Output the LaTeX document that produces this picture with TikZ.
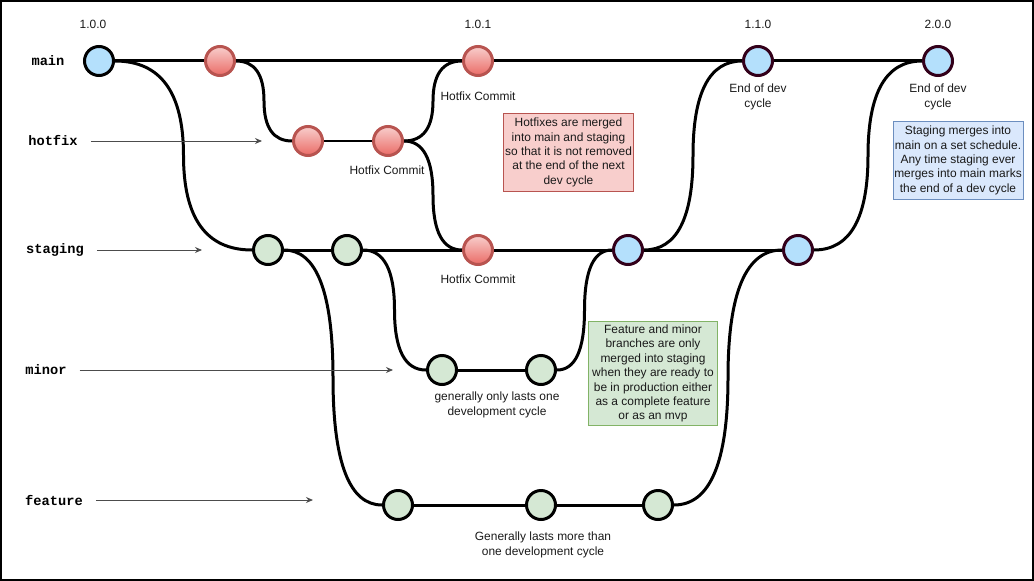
\documentclass[tikz,border=0pt]{standalone}
\usepackage{fontspec}
\setmainfont{Liberation Sans}
\setmonofont{Liberation Mono}
\usepackage{tikz}
\usetikzlibrary{arrows.meta, calc, backgrounds}
\definecolor{gfBlue}{RGB}{180,224,252}
\definecolor{gfRim}{RGB}{51,0,26}
\definecolor{gfRedTop}{RGB}{248,206,204}
\definecolor{gfRedBot}{RGB}{234,107,102}
\definecolor{gfRedRim}{RGB}{184,84,80}
\definecolor{gfGreen}{RGB}{213,232,212}
\definecolor{gfGreenRim}{RGB}{130,179,102}
\definecolor{gfNoteBlue}{RGB}{218,232,252}
\definecolor{gfNoteBlueRim}{RGB}{108,142,191}
% smooth orthogonal merge, bending at the half-way column
\newcommand{\mergecurve}[2]{%
  \path (#1.east) coordinate (mc0) (#2.west) coordinate (mc3)
    ($(mc0)!1/3!(mc3)$) coordinate (mca)
    ($(mc0)!1/6!(mc3)$) coordinate (mcb)
    ($(mc0)!1/2!(mc3)$) coordinate (mcm)
    ($(mc0)!5/6!(mc3)$) coordinate (mcc)
    ($(mc0)!2/3!(mc3)$) coordinate (mcd);
  \draw[branch] (mc0) .. controls (mca |- mc0) and (mcm |- mcb) .. (mcm)
    .. controls (mcm |- mcc) and (mcd |- mc3) .. (mc3);}

\begin{document}
\begin{tikzpicture}[
    x=0.02cm, y=-0.02cm,
    commit/.style={circle, minimum size=0.58cm, inner sep=0pt, line width=0.06cm},
    base/.style={commit, fill=gfBlue, draw=black},
    release/.style={commit, fill=gfBlue, draw=gfRim},
    fix/.style={commit, top color=gfRedTop, bottom color=gfRedBot, draw=gfRedRim},
    work/.style={commit, fill=gfGreen, draw=black},
    branch/.style={line width=0.06cm, draw=black},
    txt/.style={font=\fontsize{6.8}{8.2}\selectfont, text=black!90, align=center, inner sep=0pt},
    note/.style={txt, draw, line width=0.02cm, minimum width=2.6cm, minimum height=1.58cm},
    branchlbl/.style={font=\ttfamily\bfseries\fontsize{7.8}{9}\selectfont, inner sep=1pt},
    pointer/.style={-{Stealth[length=0.14cm, width=0.12cm]}, line width=0.02cm, draw=black!70,
      shorten <=0.22cm}
  ]
    \useasboundingbox (0,0) rectangle (1034,581);
    \draw[line width=0.04cm] (1,1) rectangle (1033,580);

    % branch names
    \node[branchlbl] (lmain) at (48,61) {main};
    \node[branchlbl] (lhot) at (53,141) {hotfix};
    \node[branchlbl] (lstage) at (55,250) {staging};
    \node[branchlbl] (lminor) at (46,370) {minor};
    \node[branchlbl] (lfeat) at (54,500) {feature};
    \coordinate (thot) at (262,141);
    \coordinate (tstage) at (202,250);
    \coordinate (tminor) at (393,370);
    \coordinate (tfeat) at (313,500);
    \draw[pointer] (lhot) -- (thot);
    \draw[pointer] (lstage) -- (tstage);
    \draw[pointer] (lminor) -- (tminor);
    \draw[pointer] (lfeat) -- (tfeat);

    % commits
    \node[base] (m0) at (99,61) {};
    \node[fix] (m1) at (220,61) {};
    \node[fix] (m2) at (478,61) {};
    \node[release] (m3) at (758,61) {};
    \node[release] (m4) at (938,61) {};
    \node[fix] (h1) at (308,141) {};
    \node[fix] (h2) at (388,141) {};
    \node[work] (s1) at (268,250) {};
    \node[work] (s2) at (347,250) {};
    \node[fix] (s3) at (478,250) {};
    \node[release] (s4) at (628,250) {};
    \node[release] (s5) at (798,250) {};
    \node[work] (n1) at (442,370) {};
    \node[work] (n2) at (541,370) {};
    \node[work] (f1) at (398,505) {};
    \node[work] (f2) at (541,505) {};
    \node[work] (f3) at (658,505) {};

    \begin{scope}[on background layer]
      \draw[branch] (m0) -- (m1) -- (m2) -- (m3) -- (m4);
      \draw[branch] (h1) -- (h2);
      \draw[branch] (s1) -- (s2) -- (s3) -- (s4) -- (s5);
      \draw[branch] (n1) -- (n2);
      \draw[branch] (f1) -- (f2) -- (f3);
      \mergecurve{m0}{s1}
      \mergecurve{m1}{h1}
      \mergecurve{h2}{m2}
      \mergecurve{h2}{s3}
      \mergecurve{s1}{f1}
      \mergecurve{s2}{n1}
      \mergecurve{n2}{s4}
      \mergecurve{f3}{s5}
      \mergecurve{s4}{m3}
      \mergecurve{s5}{m4}
    \end{scope}

    % versions and captions
    \node[txt] (v100) at (93,24) {1.0.0};
    \node[txt] (v101) at (478,24) {1.0.1};
    \node[txt] (v110) at (758,24) {1.1.0};
    \node[txt] (v200) at (938,24) {2.0.0};
    \node[txt] (cm2) at (478,96) {Hotfix Commit};
    \node[txt] (ch2) at (387,170) {Hotfix Commit};
    \node[txt] (cs3) at (478,279) {Hotfix Commit};
    \node[txt] (cm3) at (758,97) {End of dev\\cycle};
    \node[txt] (cm4) at (938,97) {End of dev\\cycle};
    \node[txt] (cminor) at (497,405) {generally only lasts one\\development cycle};
    \node[txt] (cfeat) at (543,545) {Generally lasts more than\\one development cycle};

    % notes
    \node[note, fill=gfRedTop, draw=gfRedRim] (nhot) at (568.5,152.5)
      {Hotfixes are merged\\into main and staging\\so that it is not removed\\at the end of the next\\dev cycle};
    \node[note, fill=gfNoteBlue, draw=gfNoteBlueRim] (nstage) at (958,160.5)
      {Staging merges into\\main on a set schedule.\\Any time staging ever\\merges into main marks\\the end of a dev cycle};
    \node[note, fill=gfGreen, draw=gfGreenRim, minimum height=2.1cm] (nwork) at (653,373.5)
      {Feature and minor\\branches are only\\merged into staging\\when they are ready to\\be in production either\\as a complete feature\\or as an mvp};
  \end{tikzpicture}
\end{document}
